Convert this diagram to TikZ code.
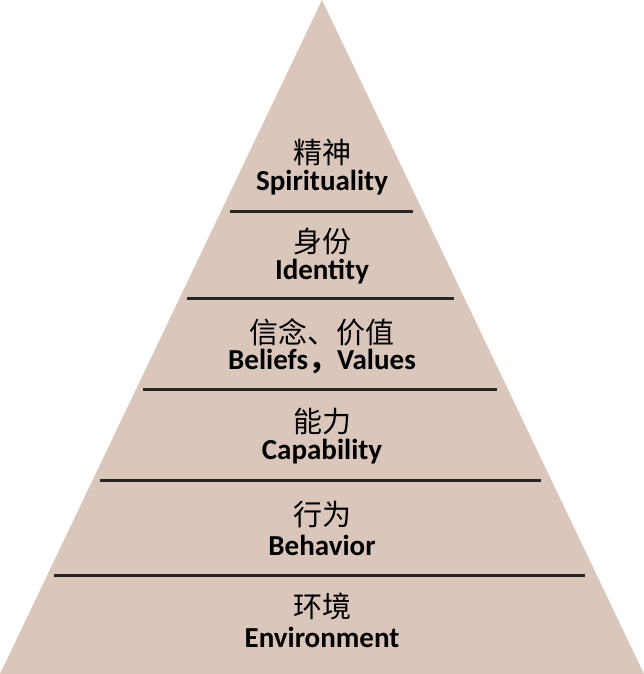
\documentclass[tikz,border=0pt]{standalone}
\usepackage{fontspec}
\setmainfont{Carlito}
\newfontfamily\cjk{Noto Sans CJK SC}
\definecolor{pyramid}{RGB}{218,198,186}
\tikzset{
  zh/.style={font=\cjk\fontsize{29}{29}\selectfont, inner sep=0pt},
  en/.style={font=\bfseries\fontsize{29}{29}\selectfont, inner sep=0pt},
  layer/.style={line width=3pt, black!85}
}
\begin{document}
\begin{tikzpicture}[x=1pt, y=-1pt]
	\useasboundingbox (0,0) rectangle (644,674);
	\fill[pyramid] (322,0) -- (644,674) -- (0,674) -- cycle;
	% separating bars
	\draw[layer] (230,211) -- (413,211);
	\draw[layer] (187,298) -- (454,298);
	\draw[layer] (143,389) -- (497,389);
	\draw[layer] (100,480) -- (541,480);
	\draw[layer] (54,575) -- (585,575);
	% labels
	\node[zh] (spirit-zh) at (322,152) {精神};
	\node[en] (spirit-en) at (322,183) {Spirituality};
	\node[zh] (ident-zh) at (322,242) {身份};
	\node[en] (ident-en) at (322,272) {Identity};
	\node[zh] (belief-zh) at (322,332) {信念、价值};
	\node[en] (belief-en) at (322,362) {Beliefs{\cjk ，}Values};
	\node[zh] (capab-zh) at (322,422) {能力};
	\node[en] (capab-en) at (322,452) {Capability};
	\node[zh] (behav-zh) at (322,515) {行为};
	\node[en] (behav-en) at (322,545) {Behavior};
	\node[zh] (env-zh) at (322,606) {环境};
	\node[en] (env-en) at (322,637) {Environment};
\end{tikzpicture}
\end{document}
